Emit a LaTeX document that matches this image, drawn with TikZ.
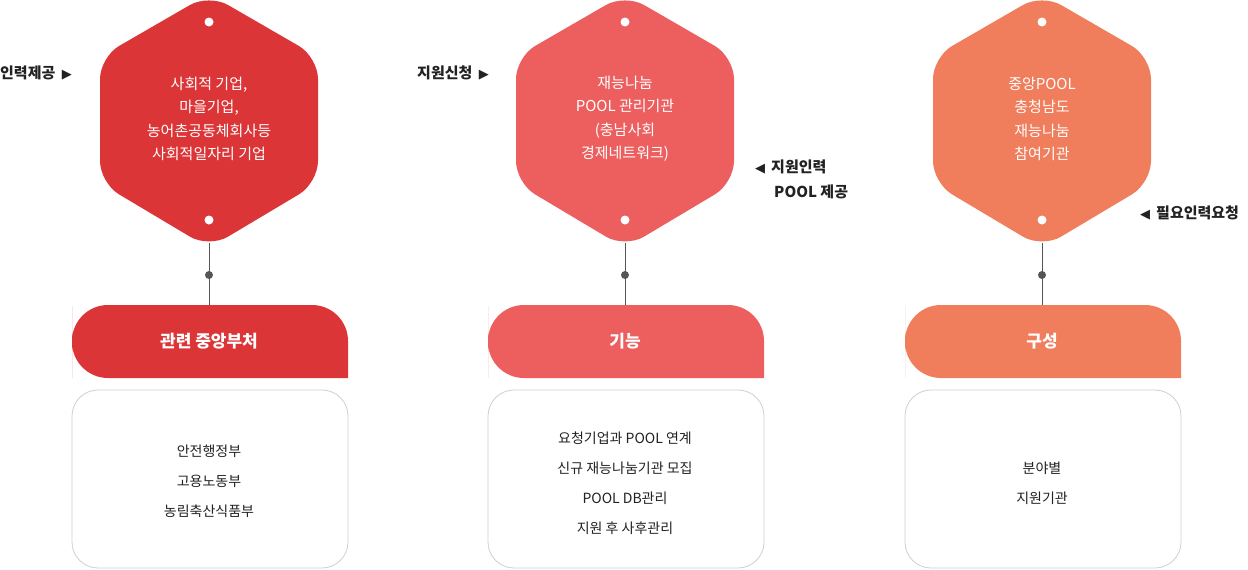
\documentclass[tikz,border=0pt]{standalone}
\usepackage{fontspec}
\setmainfont{Noto Sans CJK KR}
\newfontfamily\symf{DejaVu Sans}
\definecolor{cA}{HTML}{DC3537}
\definecolor{cB}{HTML}{ED5E5E}
\definecolor{cC}{HTML}{F07D5C}
\definecolor{txt}{HTML}{222222}
\definecolor{ln}{HTML}{555555}
\definecolor{bd}{HTML}{CFCFCF}
\tikzset{
 hextxt/.style={text=white,font=\fontsize{15}{23.5}\selectfont,align=center},
 headtxt/.style={text=white,font=\fontsize{17}{20}\selectfont\bfseries},
 boxtxt/.style={text=txt,font=\fontsize{14}{30}\selectfont,align=center},
 side/.style={text=txt,font=\fontsize{15}{25}\selectfont\bfseries,align=left},
 conn/.style={draw=ln,line width=0.9pt},
}
\newcommand{\tri}[1]{{\symf\fontsize{13}{13}\selectfont #1}}
\newcommand{\column}[7]{%
 \fill[#2,rounded corners=22] (#1,-6) -- (#1+109,57) -- (#1+109,183) -- (#1,248) -- (#1-109,183) -- (#1-109,57) -- cycle;
 \node[hextxt] (#3hex) at (#1,119) {#4};
 \fill[white] (#1,22) circle (4.5);
 \fill[white] (#1,220) circle (4.5);
 \coordinate (#3top) at (#1,243);
 \coordinate (#3bot) at (#1,305);
 \draw[conn] (#3top) -- (#3bot);
 \fill[ln] (#1,275) circle (4);
 \fill[#2] (#1-137,342) [rounded corners=36] -- (#1-137,305) -- (#1+139,305) [sharp corners] -- (#1+139,378) [rounded corners=36] -- (#1-137,378) -- cycle;
 \node[headtxt] (#3head) at (#1,341) {#5};
 \draw[bd,fill=white,line width=0.8pt,rounded corners=26] (#1-137,390) rectangle (#1+139,568);
 \node[boxtxt] (#3box) at (#1,#7) {#6};
}
\begin{document}
\begin{tikzpicture}[x=1pt,y=-1pt]
\useasboundingbox (0,0) rectangle (1248,570);
\column{209}{cA}{a}{사회적 기업,\\마을기업,\\농어촌공동체회사등\\사회적일자리 기업}{관련 중앙부처}{안전행정부\\고용노동부\\농림축산식품부}{481}
\column{625}{cB}{b}{재능나눔\\POOL 관리기관\\(충남사회\\경제네트워크)}{기능}{요청기업과 POOL 연계\\신규 재능나눔기관 모집\\POOL DB관리\\지원 후 사후관리}{483}
\column{1042}{cC}{c}{중앙POOL\\충청남도\\재능나눔\\참여기관}{구성}{분야별\\지원기관}{483}
\node[side,anchor=west,inner sep=0] (s1) at (0,73) {인력제공 \hspace{3pt}\tri{▶}};
\node[side,anchor=west,inner sep=0] (s2) at (417,73) {지원신청 \hspace{3pt}\tri{▶}};
\node[side,anchor=north west,inner sep=0] (s3) at (755,160) {\tri{◀}\hspace{6pt}지원인력\\\hspace{19pt}POOL 제공};
\node[side,anchor=west,inner sep=0] (s4) at (1140,213) {\tri{◀}\hspace{6pt}필요인력요청};
\end{tikzpicture}
\end{document}
